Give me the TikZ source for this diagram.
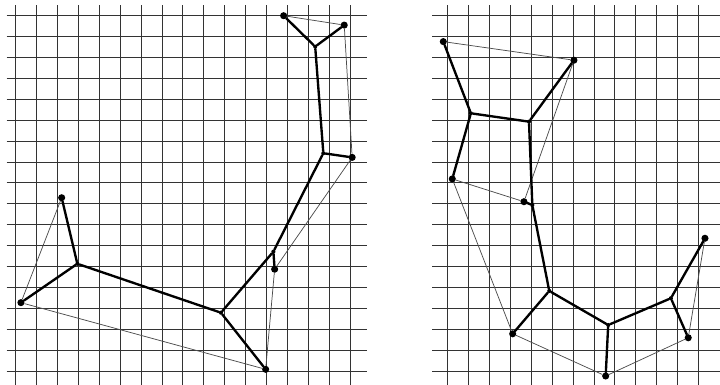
\documentclass[tikz,border=0pt]{standalone}
\usepackage{tikz}
\usetikzlibrary{positioning}
\tikzset{
  gridln/.style={line width=1.3pt, black!80},
  site/.style={circle, fill=black, inner sep=0pt, minimum size=0.34cm},
  junc/.style={circle, fill=black, inner sep=0pt, minimum size=0.2cm},
  tree/.style={line width=3.2pt, black, line cap=round},
  tour/.style={line width=1pt, black!70},
}
\begin{document}
\begin{tikzpicture}[x=1cm, y=-1cm]
\useasboundingbox (-0.751,-0.751) rectangle (33.70,17.67);
% left grid
\foreach \i in {0,...,16} \draw[gridln] (\i,-0.51) -- (\i,17.67);
\foreach \j in {0,...,17} \draw[gridln] (-0.43,\j) -- (16.8,\j);
% right grid
\foreach \i in {0,...,12} \draw[gridln] (20.67+\i,-0.51) -- (20.67+\i,17.67);
\foreach \j in {0,...,17} \draw[gridln] (19.93,\j) -- (33.70,\j);

% left tree
\node[site] (a) at (12.82,0.00) {};
\node[site] (b) at (15.72,0.45) {};
\node[junc] (c) at (14.33,1.48) {};
\node[junc] (d) at (14.72,6.58) {};
\node[site] (e) at (16.10,6.78) {};
\node[site] (f) at (2.20,8.71) {};
\node[junc] (g) at (2.95,11.87) {};
\node[site] (h) at (0.25,13.73) {};
\node[junc] (i) at (9.82,14.21) {};
\node[site] (j) at (11.96,16.92) {};
\node[junc] (k) at (12.33,11.29) {};
\node[site] (l) at (12.39,12.13) {};
\draw[tour] (a) -- (b) -- (e) -- (l) -- (j) -- (h) -- (f);
\draw[tree] (a) -- (c) -- (b);
\draw[tree] (c) -- (d) -- (e);
\draw[tree] (d) -- (k) -- (l);
\draw[tree] (k) -- (i) -- (j);
\draw[tree] (i) -- (g) -- (f);
\draw[tree] (g) -- (h);

% right tree
\node[site] (p) at (20.46,1.24) {};
\node[site] (q) at (26.71,2.13) {};
\node[junc] (r) at (21.78,4.67) {};
\node[junc] (s) at (24.56,5.07) {};
\node[site] (t) at (20.89,7.81) {};
\node[site] (u) at (24.32,8.90) {};
\node[junc] (v) at (24.72,9.06) {};
\node[junc] (w) at (25.53,13.17) {};
\node[site] (x) at (23.78,15.22) {};
\node[junc] (y) at (28.35,14.80) {};
\node[site] (z) at (28.23,17.24) {};
\node[junc] (aa) at (31.35,13.52) {};
\node[site] (bb) at (32.18,15.41) {};
\node[site] (cc) at (32.98,10.65) {};
\draw[tour] (p) -- (q) -- (u) -- (t) -- (x) -- (z) -- (bb) -- (cc);
\draw[tree] (p) -- (r) -- (s) -- (q);
\draw[tree] (r) -- (t);
\draw[tree] (s) -- (v) -- (u);
\draw[tree] (v) -- (w) -- (x);
\draw[tree] (w) -- (y) -- (z);
\draw[tree] (y) -- (aa) -- (cc);
\draw[tree] (aa) -- (bb);
\end{tikzpicture}
\end{document}
